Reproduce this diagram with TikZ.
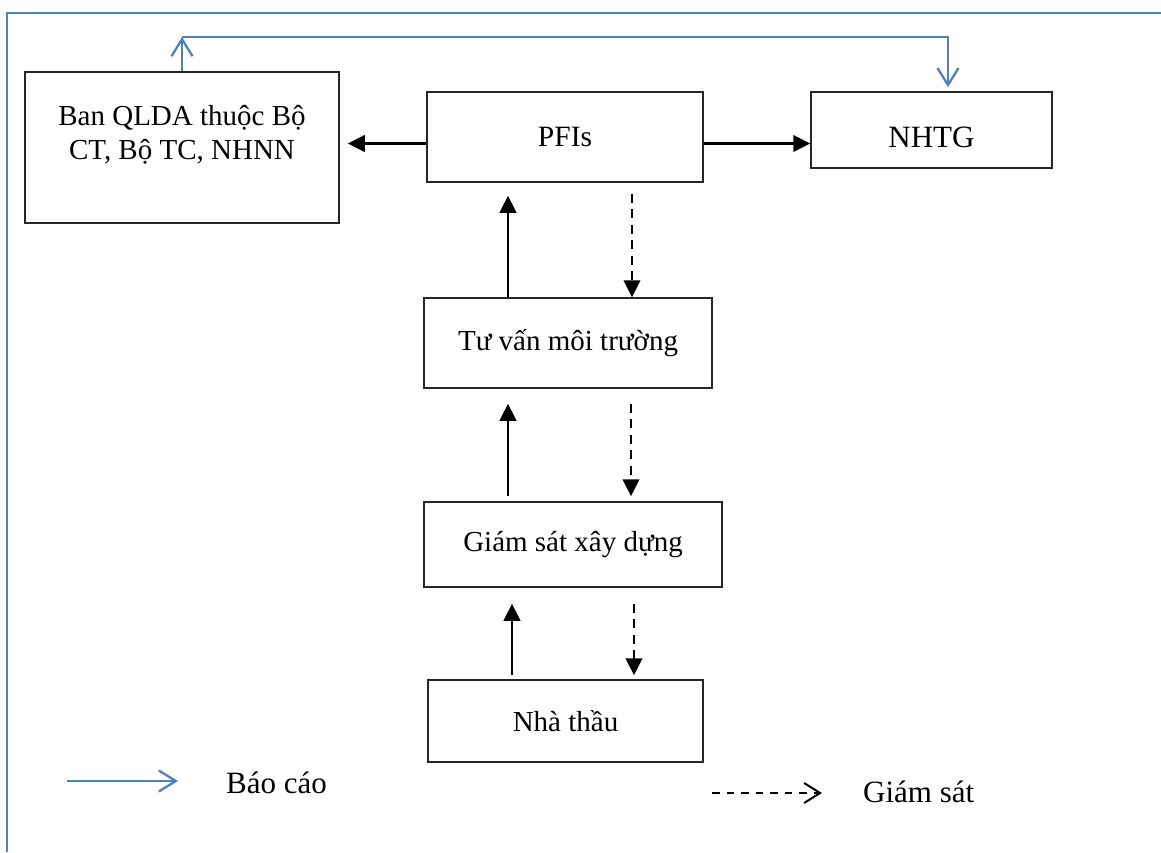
\documentclass[tikz,border=0pt]{standalone}
\usepackage{fontspec}
\setmainfont{Liberation Serif}
\usetikzlibrary{arrows.meta}
\definecolor{rptblue}{RGB}{79,129,189}
\begin{document}
\begin{tikzpicture}[x=1pt,y=-1pt,
  box/.style={draw=black!85, line width=1.5pt, inner sep=0pt, align=center, font=\fontsize{29}{33}\selectfont},
  txt/.style={inner sep=0pt, align=center, font=\fontsize{29}{34}\selectfont},
  solidarr/.style={draw=black, line width=2.6pt, -{Triangle[length=17pt,width=16.5pt]}},
  dasharr/.style={draw=black, line width=2.6pt, dash pattern=on 9pt off 6.5pt, -{Triangle[length=17pt,width=16.5pt]}},
  rpt/.style={draw=rptblue, line width=2.3pt, -{Straight Barb[length=17pt,width=21pt]}},
  framepart/.style={draw=rptblue, line width=1.6pt},
  lbl/.style={inner sep=0pt, anchor=base west, font=\fontsize{31}{36}\selectfont}
]
\useasboundingbox (0,0) rectangle (1161,852);
% frame
\draw[framepart] (7,852) -- (7,13) -- (1161,13);
% boxes
\node[box, minimum width=314pt, minimum height=151pt] (ban) at (182,147.5) {};
\node[txt] (bantext) at (182,135) {Ban QLDA thuộc Bộ\\CT, Bộ TC, NHNN};
\node[box, minimum width=276pt, minimum height=90pt, font=\fontsize{29.5}{34}\selectfont] (pfi) at (565,137) {PFIs};
\node[box, minimum width=241pt, minimum height=76pt, font=\fontsize{31}{36}\selectfont, text height=34.6pt, text depth=0pt] (nhtg) at (931.5,130) {NHTG};
\node[box, minimum width=288pt, minimum height=90pt] (tv) at (568,343) {Tư vấn môi trường};
\node[box, minimum width=298pt, minimum height=85pt] (gs) at (573,544.5) {Giám sát xây dựng};
\node[box, minimum width=275pt, minimum height=82pt] (nt) at (565.5,721) {Nhà thầu};
% helper coordinates
\coordinate (rowH) at (0,143.5);
\coordinate (topy) at (0,37);
\coordinate (colN) at (948,0);
\coordinate (colA) at (508,0);
\coordinate (colA3) at (512,0);
\coordinate (colB1) at (632,0);
\coordinate (colB2) at (631,0);
\coordinate (colB3) at (634,0);
% horizontal arrows
\draw[solidarr, shorten >=8pt] (pfi.west |- rowH) -- (ban.east |- rowH);
\draw[solidarr] (pfi.east |- rowH) -- (nhtg.west |- rowH);
% vertical arrows
\draw[solidarr, shorten >=13pt] (tv.north -| colA) -- (pfi.south -| colA);
\draw[dasharr, shorten <=11pt] (pfi.south -| colB1) -- (tv.north -| colB1);
\draw[solidarr, shorten <=5pt, shorten >=15pt] (gs.north -| colA) -- (tv.south -| colA);
\draw[dasharr, shorten <=15pt, shorten >=5pt] (tv.south -| colB2) -- (gs.north -| colB2);
\draw[solidarr, shorten <=4pt, shorten >=16pt] (nt.north -| colA3) -- (gs.south -| colA3);
\draw[dasharr, shorten <=16pt, shorten >=4pt] (gs.south -| colB3) -- (nt.north -| colB3);
% report (blue) connector
\draw[rpt] (ban.north) -- (ban.north |- topy);
\draw[rpt, shorten >=4pt] (ban.north |- topy) -| (nhtg.north -| colN);
% legend
\coordinate (l1s) at (67,781);
\coordinate (l1e) at (178,781);
\draw[rpt] (l1s) -- (l1e);
\node[lbl] (lbao) at (226,793) {Báo cáo};
\coordinate (l2s) at (712,793);
\coordinate (l2e) at (822,793);
\draw[draw=black, line width=2pt, dash pattern=on 7.5pt off 7pt, -{Straight Barb[length=16pt,width=20pt]}] (l2s) -- (l2e);
\node[lbl] (lgs) at (863,802) {Giám sát};
\end{tikzpicture}
\end{document}
